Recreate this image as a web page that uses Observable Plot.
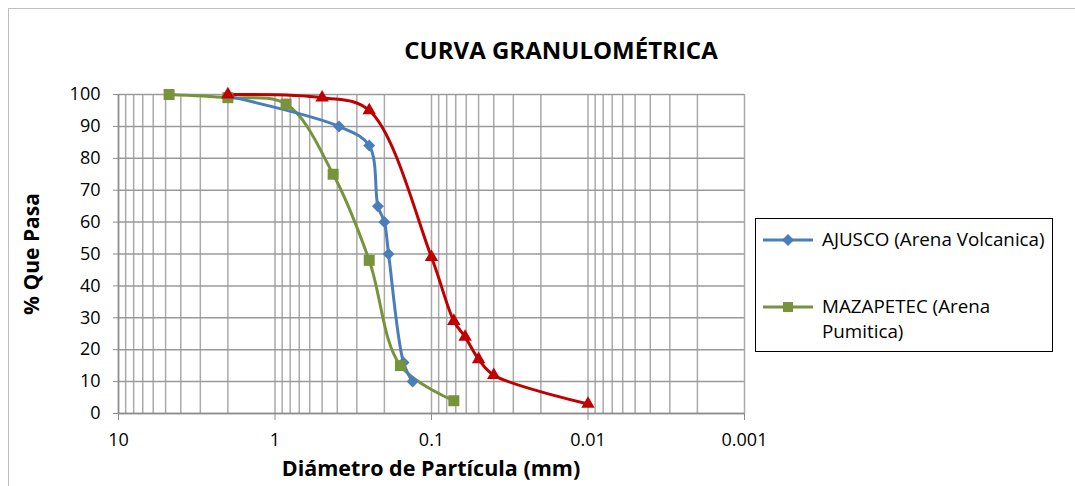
<!DOCTYPE html>
<html><head><meta charset="utf-8">
<script src="https://cdn.jsdelivr.net/npm/d3@7"></script>
<script src="https://cdn.jsdelivr.net/npm/@observablehq/plot@0.6"></script>
<style>
body{margin:0;background:#fff;font-family:"Open Sans",sans-serif;color:#000;}
#wrap{position:relative;width:1075px;height:486px;overflow:hidden;background:#fff;}
#frame{position:absolute;left:8px;top:8px;width:1100px;height:520px;border:1px solid #bfbfbf;box-sizing:border-box;}
#chart{position:absolute;left:0;top:0;}
#title{position:absolute;left:0;width:1122px;top:33px;text-align:center;font-weight:bold;font-size:24px;line-height:34px;}
#ylab{position:absolute;left:31px;top:254px;transform:translate(-50%,-50%) rotate(-90deg);font-weight:bold;font-size:21px;white-space:nowrap;}
#xlab{position:absolute;left:0;width:862px;top:453px;text-align:center;font-weight:bold;font-size:21.5px;line-height:30px;}
#legend{position:absolute;left:755px;top:218px;width:298px;height:134px;border:1.5px solid #000;box-sizing:border-box;background:#fff;}
.item{position:absolute;left:6px;display:flex;align-items:flex-start;font-size:18.8px;line-height:25px;white-space:nowrap;}
.item svg{flex:none;margin-top:4px;}
.item span{margin-left:8px;}
</style></head>
<body>
<div id="wrap">
  <div id="frame"></div>
  <div id="chart"></div>
  <div id="title">CURVA GRANULOMÉTRICA</div>
  <div id="ylab">% Que Pasa</div>
  <div id="xlab">Diámetro de Partícula (mm)</div>
  <div id="legend"></div>
</div>
<script>
// ---- data ----
const ajuscoD = [2, 0.39, 0.25, 0.22, 0.2, 0.188, 0.151, 0.132];
const ajuscoP = [99.5, 90, 84, 65, 60, 50, 16, 10];
const mazapetecD = [4.75, 2, 0.85, 0.425, 0.25, 0.158, 0.072];
const mazapetecP = [100, 99, 97, 75, 48, 15, 4];
const tercerD = [2, 0.5, 0.25, 0.1, 0.072, 0.061, 0.05, 0.04, 0.01];
const tercerP = [100, 99, 95, 49, 29, 24, 17, 12, 3];

const seriesNames = ["AJUSCO (Arena Volcanica)", "MAZAPETEC (Arena Pumitica)", ""];
const seriesColors = ["#4a7ebb", "#77933c", "#c00000"];

const xMajorTicks = [10, 1, 0.1, 0.01, 0.001];
const xTickLabels = ["10", "1", "0.1", "0.01", "0.001"];
const yTicks = [0, 10, 20, 30, 40, 50, 60, 70, 80, 90, 100];

// minor log gridlines (1..9 per decade)
const gridX = [];
[1, 0.1, 0.01, 0.001].forEach(b => { for (let m = 1; m <= 9; m++) gridX.push(+(b * m).toPrecision(3)); });
gridX.push(10);

const rows = (ds, ps) => ds.map((d, i) => ({d, p: ps[i]}));
const A = rows(ajuscoD, ajuscoP), M = rows(mazapetecD, mazapetecP), R = rows(tercerD, tercerP);

const labelMap = new Map(xMajorTicks.map((v, i) => [v, xTickLabels[i]]));

const chart = Plot.plot({
  width: 1075, height: 486,
  marginTop: 94, marginLeft: 118, marginRight: 331, marginBottom: 73,
  style: {fontFamily: "'Open Sans', sans-serif", fontSize: "18px", color: "#000", background: "transparent"},
  x: {type: "log", domain: [10, 0.001]},
  y: {domain: [0, 100]},
  marks: [
    Plot.ruleX(gridX, {stroke: "#aaaaaa", strokeWidth: 1.5}),
    Plot.ruleY(yTicks, {stroke: "#9a9a9a", strokeWidth: 1.5}),
    Plot.ruleX([10], {stroke: "#8c8c8c", strokeWidth: 1.5}),
    Plot.ruleY([0], {stroke: "#8c8c8c", strokeWidth: 1.5}),
    Plot.axisY({ticks: yTicks, tickSize: 5, tickPadding: 13, label: null, stroke: "#8c8c8c", fontSize: 18}),
    Plot.axisX({ticks: xMajorTicks, tickFormat: d => labelMap.get(d), tickSize: 7, tickPadding: 13, label: null, stroke: "#8c8c8c", fontSize: 18}),
    Plot.line(R, {x: "d", y: "p", stroke: seriesColors[2], strokeWidth: 3, curve: "catmull-rom"}),
    Plot.line(M, {x: "d", y: "p", stroke: seriesColors[1], strokeWidth: 3, curve: "catmull-rom"}),
    Plot.line(A, {x: "d", y: "p", stroke: seriesColors[0], strokeWidth: 3, curve: "catmull-rom"}),
    Plot.dot(A, {x: "d", y: "p", symbol: "diamond2", fill: seriesColors[0], stroke: "none", r: 5.4}),
    Plot.dot(M, {x: "d", y: "p", symbol: "square", fill: seriesColors[1], stroke: "none", r: 6.2}),
    Plot.dot(R, {x: "d", y: "p", symbol: "triangle", fill: seriesColors[2], stroke: "none", r: 5})
  ]
});
document.getElementById("chart").appendChild(chart);

// legend
const legend = document.getElementById("legend");
const items = [
  {name: seriesNames[0], color: seriesColors[0], sym: "diamond", top: 8},
  {name: "MAZAPETEC (Arena<br>Pumitica)", color: seriesColors[1], sym: "square", top: 75}
];
items.forEach(it => {
  const div = document.createElement("div");
  div.className = "item";
  div.style.top = it.top + "px";
  let marker = it.sym === "diamond"
    ? `<path d="M26 3 L32 9 L26 15 L20 9 Z" fill="${it.color}"/>`
    : `<rect x="21" y="4" width="10" height="10" fill="${it.color}"/>`;
  div.innerHTML = `<svg width="52" height="18"><line x1="1" x2="51" y1="9" y2="9" stroke="${it.color}" stroke-width="3"/>${marker}</svg><span>${it.name}</span>`;
  legend.appendChild(div);
});
</script>
</body></html>
